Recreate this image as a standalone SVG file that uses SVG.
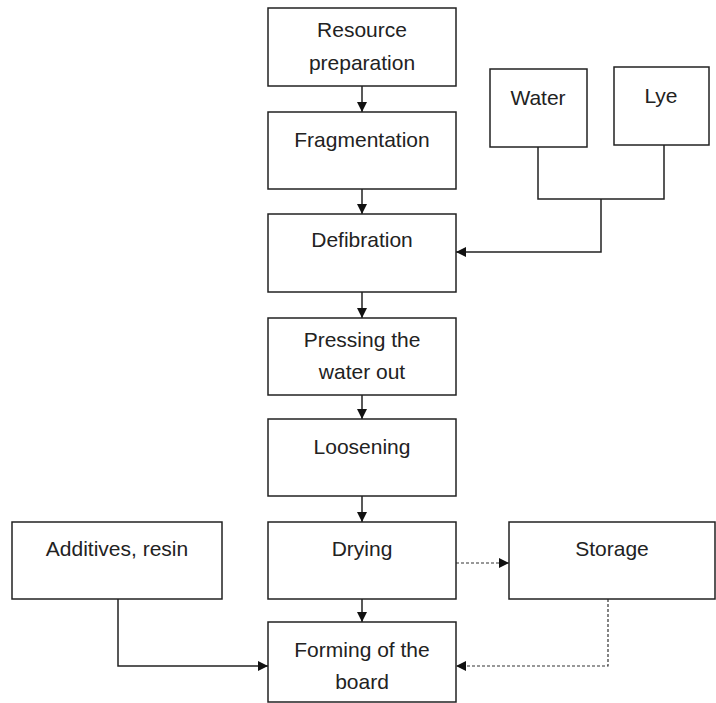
<svg xmlns="http://www.w3.org/2000/svg" width="716" height="703" viewBox="0 0 716 703">
<defs>
<style>
.box{fill:#fff;stroke:#222;stroke-width:1.5}
.t{font-family:"Liberation Sans",Arial,sans-serif;font-size:21px;fill:#222;text-anchor:middle}
.ln{fill:none;stroke:#222;stroke-width:1.5}
.dash{fill:none;stroke:#333;stroke-width:1.2;stroke-dasharray:3,2}
</style>
<marker id="ah" viewBox="0 0 10 10" refX="10" refY="5" markerWidth="10" markerHeight="10" markerUnits="userSpaceOnUse" orient="auto">
<path d="M0,0 L10,5 L0,10 Z" fill="#111"/>
</marker>
</defs>
<rect width="716" height="703" fill="#fff"/>
<g id="connectors">
<line class="ln" x1="362" y1="86" x2="362" y2="112" marker-end="url(#ah)"/>
<line class="ln" x1="362" y1="189" x2="362" y2="214" marker-end="url(#ah)"/>
<line class="ln" x1="362" y1="292" x2="362" y2="318" marker-end="url(#ah)"/>
<line class="ln" x1="362" y1="395" x2="362" y2="419" marker-end="url(#ah)"/>
<line class="ln" x1="362" y1="496" x2="362" y2="522" marker-end="url(#ah)"/>
<line class="ln" x1="362" y1="599" x2="362" y2="622" marker-end="url(#ah)"/>
<polyline class="ln" points="538,147 538,199 664,199 664,145"/>
<polyline class="ln" points="601,199 601,252 456,252" marker-end="url(#ah)"/>
<polyline class="ln" points="118,599 118,666 268,666" marker-end="url(#ah)"/>
<line class="dash" x1="456" y1="563" x2="509" y2="563" marker-end="url(#ah)"/>
<polyline class="dash" points="608,599 608,666 456,666" marker-end="url(#ah)"/>
</g>
<g id="resource">
<rect class="box" x="268" y="8" width="188" height="78"/>
<text class="t" x="362" y="37">Resource</text>
<text class="t" x="362" y="70">preparation</text>
</g>
<g id="fragmentation">
<rect class="box" x="268" y="112" width="188" height="77"/>
<text class="t" x="362" y="147">Fragmentation</text>
</g>
<g id="defibration">
<rect class="box" x="268" y="214" width="188" height="78"/>
<text class="t" x="362" y="247">Defibration</text>
</g>
<g id="pressing">
<rect class="box" x="268" y="318" width="188" height="77"/>
<text class="t" x="362" y="347">Pressing the</text>
<text class="t" x="362" y="379">water out</text>
</g>
<g id="loosening">
<rect class="box" x="268" y="419" width="188" height="77"/>
<text class="t" x="362" y="454">Loosening</text>
</g>
<g id="drying">
<rect class="box" x="268" y="522" width="188" height="77"/>
<text class="t" x="362" y="556">Drying</text>
</g>
<g id="additives">
<rect class="box" x="12" y="522" width="210" height="77"/>
<text class="t" x="117" y="556">Additives, resin</text>
</g>
<g id="storage">
<rect class="box" x="509" y="522" width="206" height="77"/>
<text class="t" x="612" y="556">Storage</text>
</g>
<g id="forming">
<rect class="box" x="268" y="622" width="188" height="80"/>
<text class="t" x="362" y="657">Forming of the</text>
<text class="t" x="362" y="689">board</text>
</g>
<g id="water">
<rect class="box" x="490" y="69" width="97" height="78"/>
<text class="t" x="538" y="105">Water</text>
</g>
<g id="lye">
<rect class="box" x="614" y="67" width="95" height="78"/>
<text class="t" x="661" y="103">Lye</text>
</g>
</svg>
